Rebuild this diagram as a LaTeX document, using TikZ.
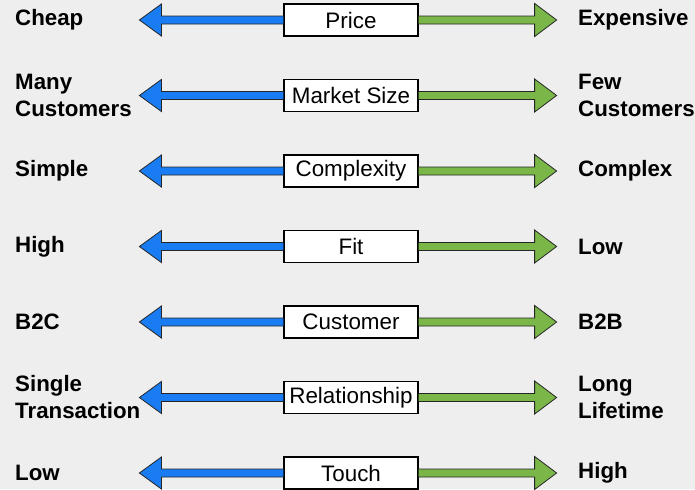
\documentclass[tikz,border=0pt]{standalone}
\usepackage{fontspec}
\setmainfont{Liberation Sans}
\usepackage{tikz}
\usetikzlibrary{positioning,calc}
\definecolor{lowblue}{HTML}{1A7CF2}
\definecolor{highgreen}{HTML}{7AB648}
\definecolor{backdrop}{HTML}{EEEEEE}
\tikzset{%
	attr/.style      = {draw, rectangle, line width=1.2pt, fill=white, minimum width=134pt, minimum height=32pt, inner sep=1pt, font=\fontsize{22.4}{26}\selectfont}, % Attribute box
	pole/.style      = {anchor=west, align=left, inner sep=0pt, font=\bfseries\fontsize{22.3}{27}\selectfont}, % End label
	lowarrow/.style  = {draw=black!85, fill=lowblue, line width=0.8pt, line join=miter},
	higharrow/.style = {draw=black!85, fill=highgreen, line width=0.8pt, line join=miter},
}

\begin{document}
\begin{tikzpicture}[x=1pt,y=1pt,node distance=75.5pt]
	\fill[backdrop] (0,0) rectangle (695,-489);
	\coordinate (lx) at (15,0);
	\coordinate (hx) at (578,0);
	
	\node [attr] (price) at (351,-20) {Price};
	\node [attr] (size) [below of=price] {Market Size};
	\node [attr] (complexity) [below of=size] {Complexity};
	\node [attr] (fit) [below of=complexity] {Fit};
	\node [attr] (customer) [below of=fit] {Customer};
	\node [attr] (relationship) [below of=customer] {Relationship};
	\node [attr] (touch) [below of=relationship] {Touch};
	
	\node [pole] (cheap) at (price -| lx) {Cheap};
	\node [pole] (many) at (size -| lx) {Many\\Customers};
	\node [pole] (simple) at (complexity -| lx) {Simple};
	\node [pole] (highfit) at (fit -| lx) {High};
	\node [pole] (btoc) at (customer -| lx) {B2C};
	\node [pole] (single) at (relationship -| lx) {Single\\Transaction};
	\node [pole] (lowtouch) at (touch -| lx) {Low};
	
	\node [pole] (expensive) at (price -| hx) {Expensive};
	\node [pole] (few) at (size -| hx) {Few\\Customers};
	\node [pole] (complex) at (complexity -| hx) {Complex};
	\node [pole] (lowfit) at (fit -| hx) {Low};
	\node [pole] (btob) at (customer -| hx) {B2B};
	\node [pole] (long) at (relationship -| hx) {Long\\Lifetime};
	\node [pole] (hightouch) at (touch -| hx) {High};
	
	% fat arrows out of each box
	\foreach \b in {price,size,complexity,fit,customer,relationship,touch}{
		\draw[lowarrow] ([yshift=4pt]\b.west) -- ++(-122,0) -- ++(0,12) -- ++(-22,-16) -- ++(22,-16) -- ++(0,12) -- ([yshift=-4pt]\b.west);
		\draw[higharrow] ([yshift=4pt]\b.east) -- ++(116,0) -- ++(0,12.5) -- ++(22,-16.5) -- ++(-22,-16.5) -- ++(0,12.5) -- ([yshift=-4pt]\b.east);
	}
\end{tikzpicture}
\end{document}
